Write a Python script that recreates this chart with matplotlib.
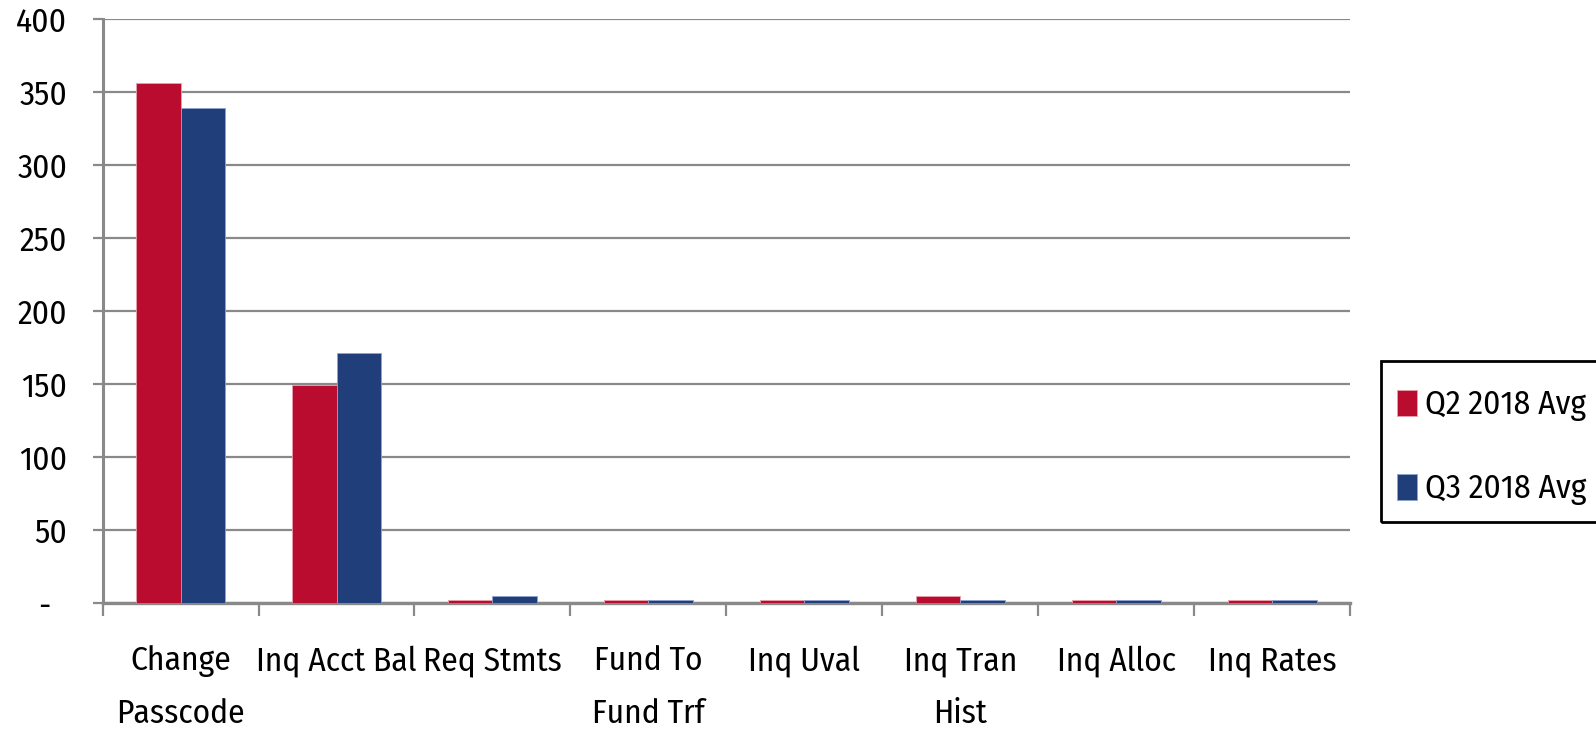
import matplotlib
matplotlib.use("Agg")
import matplotlib.pyplot as plt
from matplotlib.patches import Rectangle
from matplotlib.ticker import FixedLocator, NullFormatter
import numpy as np

plt.rcParams['font.family'] = ['Fira Sans Condensed', 'DejaVu Sans']

categories = ["Change\nPasscode", "Inq Acct Bal", "Req Stmts", "Fund To\nFund Trf",
              "Inq Uval", "Inq Tran\nHist", "Inq Alloc", "Inq Rates"]
q2_avg = [356, 149, 2.3, 2.3, 2.3, 4.7, 2.3, 2.3]
q3_avg = [339, 171, 4.7, 2.3, 2.3, 2.3, 2.3, 2.3]
series_names = ["Q2 2018 Avg", "Q3 2018 Avg"]
y_ticks = [0, 50, 100, 150, 200, 250, 300, 350, 400]
y_tick_labels = ["-  ", "50", "100", "150", "200", "250", "300", "350", "400"]

red = "#BA0C2F"
blue = "#203E7A"
grid_gray = "#898989"

W, H = 1596, 733
fig = plt.figure(figsize=(W / 100, H / 100), dpi=100)
ax = fig.add_axes([0.0643, 0.1774, 0.7816, 0.7966])

x = np.arange(len(categories))
w = 1 / 3.5
ax.bar(x - w / 2, q2_avg, width=w, color=red, edgecolor="#E8A0B0", linewidth=0.6,
       label=series_names[0], zorder=3)
ax.bar(x + w / 2, q3_avg, width=w, color=blue, edgecolor="#8FA3CC", linewidth=0.6,
       label=series_names[1], zorder=3)

ax.set_xlim(-0.5, len(categories) - 0.5)
ax.set_ylim(0, 400)

ax.set_yticks(y_ticks)
ax.set_yticklabels(y_tick_labels, fontsize=24)
ax.yaxis.grid(True, color=grid_gray, linewidth=1.6, zorder=0)
ax.tick_params(axis="y", length=7.5, width=1.6, color=grid_gray, pad=18)

ax.set_xticks(x)
ax.set_xticklabels(categories, fontsize=24, linespacing=1.85, va="top")
ax.tick_params(axis="x", which="major", length=0, pad=30)
ax.xaxis.set_minor_locator(FixedLocator(np.arange(-0.5, len(categories), 1.0)))
ax.xaxis.set_minor_formatter(NullFormatter())
ax.tick_params(axis="x", which="minor", length=9, width=1.6, color=grid_gray)

for side in ("top", "right"):
    ax.spines[side].set_visible(False)
ax.spines["left"].set_color(grid_gray)
ax.spines["left"].set_linewidth(2.2)
ax.spines["bottom"].set_color(grid_gray)
ax.spines["bottom"].set_linewidth(2.4)
ax.set_axisbelow(True)

# legend frame, running off the right edge of the figure
fig.patches.append(Rectangle((1381 / W, 1 - 522 / H), 240 / W, 161 / H,
                             transform=fig.transFigure, fill=False,
                             edgecolor="black", linewidth=2.0))
leg = fig.legend(loc="upper left", bbox_to_anchor=(1397 / W, 1 - 389 / H),
                 fontsize=24, frameon=False,
                 handlelength=0.61, handleheight=0.83, handletextpad=0.24,
                 labelspacing=1.55, borderpad=0, borderaxespad=0)

fig.savefig("out.png", dpi=100)
